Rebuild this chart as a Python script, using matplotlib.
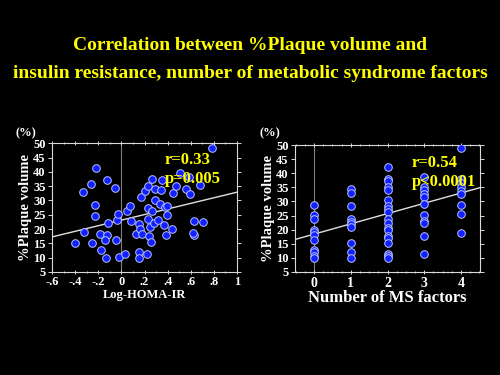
import numpy as np
import matplotlib
matplotlib.use("Agg")
import matplotlib.pyplot as plt
from matplotlib.ticker import MultipleLocator, FixedLocator

plt.rcParams['font.family'] = ['Liberation Serif', 'DejaVu Serif']
plt.rcParams['font.weight'] = 'bold'

# left panel: Log-HOMA-IR vs %plaque volume
homa_x = [-0.405, -0.327, -0.33, -0.26, -0.25, -0.216, -0.225, -0.23, -0.187, -0.18,
          -0.126, -0.117, -0.123, -0.143, -0.13, -0.056, -0.047, -0.04, -0.027, -0.02,
          0.03, 0.049, 0.072, 0.084, 0.124, 0.153, 0.162, 0.177, 0.156, 0.15,
          0.174, 0.206, 0.232, 0.264, 0.287, 0.229, 0.226, 0.244, 0.241, 0.256,
          0.22, 0.264, 0.29, 0.284, 0.319, 0.331, 0.345, 0.351, 0.366, 0.377,
          0.398, 0.383, 0.398, 0.441, 0.444, 0.476, 0.508, 0.561, 0.593, 0.625,
          0.622, 0.628, 0.683, 0.709, 0.782, 0.588]
homa_y = [15.0, 18.9, 32.8, 35.7, 15.0, 41.5, 28.4, 24.6, 18.3, 12.6,
          37.0, 22.0, 17.8, 16.0, 10.0, 34.4, 16.3, 23.2, 25.1, 10.1,
          11.1, 26.3, 27.9, 22.7, 18.1, 21.6, 20.1, 18.1, 11.8, 10.0,
          31.2, 33.4, 34.9, 37.4, 33.9, 27.4, 23.5, 20.6, 17.5, 15.3,
          11.1, 26.4, 30.2, 22.0, 23.3, 28.9, 33.6, 37.1, 21.5, 27.8,
          28.0, 17.8, 24.9, 20.1, 32.7, 34.9, 39.7, 33.9, 32.3, 18.0,
          18.6, 22.9, 35.4, 22.3, 48.5, 38.1]
homa_fit = (23.1, 9.78)      # intercept, slope

# right panel: number of MS factors vs %plaque volume
ms_groups = [0, 1, 2, 3, 4]
ms_values = [
    [28.7, 25.1, 23.7, 20.0, 19.0, 18.1, 16.2, 12.9, 12.0, 10.8, 9.8],
    [34.6, 33.0, 28.3, 23.6, 22.7, 21.9, 20.9, 15.3, 12.0, 10.0],
    [42.1, 37.9, 37.1, 35.1, 34.2, 30.4, 28.4, 27.2, 26.2, 23.6, 22.4, 20.7, 19.7,
     17.9, 17.0, 15.2, 11.2, 10.5, 9.8],
    [38.7, 35.1, 34.0, 32.8, 31.6, 29.2, 25.1, 23.2, 22.4, 17.9, 11.2],
    [49.0, 37.8, 36.6, 35.1, 33.7, 32.8, 28.6, 25.4, 18.8],
]
ms_fit = (18.4, 3.65)

yellow = '#ffff00'
frame = '#d8d8d8'

fig = plt.figure(figsize=(5, 3.75), dpi=100, facecolor='black')

fig.text(0.5, 0.88, 'Correlation between %Plaque volume and', color=yellow,
         fontsize=14, fontweight='bold', ha='center', va='center')
fig.text(0.5, 0.805, 'insulin resistance, number of metabolic syndrome factors',
         color=yellow, fontsize=14, fontweight='bold', ha='center', va='center')


def style(ax):
    ax.set_facecolor('black')
    for s in ax.spines.values():
        s.set_color(frame)
        s.set_linewidth(0.8)
    ax.set_ylim(5, 50)
    ax.yaxis.set_major_locator(MultipleLocator(5))
    ax.tick_params(axis='both', colors=frame, labelcolor='white', labelsize=9,
                   length=3, width=0.7, direction='out', pad=1.5)
    ax.tick_params(which='minor', colors=frame, length=1.5, width=0.6)
    ax.tick_params(axis='x', which='both', top=True, direction='inout')
    ax.tick_params(axis='y', which='both', right=True)


def scatter(ax, x, y):
    ax.scatter(x, y, s=30, facecolor='#1020ff', edgecolor='#b8c0ff',
               linewidth=0.7, zorder=3)


# left
ax1 = fig.add_axes([0.104, 0.275, 0.37, 0.343])
style(ax1)
ax1.set_xlim(-0.6, 1.0)
xt = [-0.6, -0.4, -0.2, 0, 0.2, 0.4, 0.6, 0.8, 1.0]
ax1.xaxis.set_major_locator(FixedLocator(xt))
ax1.xaxis.set_minor_locator(MultipleLocator(0.1))
ax1.set_xticklabels(['-.6', '-.4', '-.2', '0', '.2', '.4', '.6', '.8', '1'],
                    fontweight='bold')
ax1.set_yticks(range(5, 51, 5))
ax1.set_yticklabels([str(v) for v in range(5, 51, 5)], fontweight='bold')
ax1.axvline(0, color='#808080', lw=0.8, zorder=1)
lx = np.array([-0.6, 1.0])
ax1.plot(lx, homa_fit[0] + homa_fit[1] * lx, color='#e0e0e0', lw=1, zorder=2)
scatter(ax1, homa_x, homa_y)
ax1.set_xlabel('Log-HOMA-IR', color='white', fontsize=9, fontweight='bold',
               labelpad=1)
ax1.set_ylabel('%Plaque volume', color='white', fontsize=10.5,
               fontweight='bold', labelpad=1)
ax1.text(0.61, 0.87, 'r=0.33', transform=ax1.transAxes, color=yellow,
         fontsize=12, fontweight='bold', va='center', zorder=4)
ax1.text(0.61, 0.72, 'p=0.005', transform=ax1.transAxes, color=yellow,
         fontsize=12, fontweight='bold', va='center', zorder=4)
fig.text(0.03, 0.645, '(%)', color='white', fontsize=9, fontweight='bold',
         va='center')

# right
ax2 = fig.add_axes([0.59, 0.275, 0.37, 0.338])
style(ax2)
ax2.set_xlim(-0.52, 4.52)
ax2.xaxis.set_major_locator(FixedLocator(ms_groups))
ax2.xaxis.set_minor_locator(MultipleLocator(0.25))
ax2.set_xticklabels([str(g) for g in ms_groups], fontweight='bold', fontsize=10)
ax2.set_yticks(range(5, 51, 5))
ax2.set_yticklabels([str(v) for v in range(5, 51, 5)], fontweight='bold')
ax2.tick_params(axis='x', pad=2.5)
ax2.axvline(0, color='#808080', lw=0.8, zorder=1)
lx2 = np.array([-0.52, 4.52])
ax2.plot(lx2, ms_fit[0] + ms_fit[1] * lx2, color='#e0e0e0', lw=1, zorder=2)
for g, vals in zip(ms_groups, ms_values):
    scatter(ax2, [g] * len(vals), vals)
ax2.set_xlabel('Number of MS factors', color='white', fontsize=12,
               fontweight='bold', labelpad=0)
ax2.set_ylabel('%Plaque volume', color='white', fontsize=10.5,
               fontweight='bold', labelpad=1)
ax2.text(0.63, 0.86, 'r=0.54', transform=ax2.transAxes, color=yellow,
         fontsize=12, fontweight='bold', va='center', zorder=4)
ax2.text(0.63, 0.71, 'p<0.0001', transform=ax2.transAxes, color=yellow,
         fontsize=12, fontweight='bold', va='center', zorder=4)
fig.text(0.52, 0.645, '(%)', color='white', fontsize=9, fontweight='bold',
         va='center')

fig.savefig('out.png', dpi=100, facecolor='black')
